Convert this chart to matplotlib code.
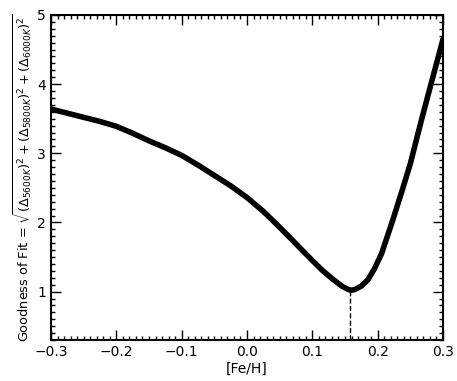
import matplotlib
matplotlib.use('Agg')
import matplotlib.pyplot as plt
from matplotlib.ticker import MultipleLocator

# Valores
feh = [-0.30, -0.275, -0.25, -0.225, -0.20, -0.175, -0.15, -0.125, -0.10, -0.075, -0.05,
       -0.025, 0.00, 0.025, 0.05, 0.075, 0.10, 0.115, 0.13, 0.145, 0.155, 0.16, 0.165,
       0.175, 0.185, 0.195, 0.206, 0.223, 0.239, 0.25, 0.267, 0.283, 0.30]
fit = [3.64, 3.58, 3.52, 3.46, 3.39, 3.29, 3.18, 3.08, 2.97, 2.83, 2.68,
       2.53, 2.36, 2.16, 1.93, 1.69, 1.45, 1.31, 1.19, 1.08, 1.03, 1.02, 1.03,
       1.08, 1.17, 1.33, 1.55, 2.03, 2.51, 2.85, 3.48, 4.05, 4.65]
feh_min = 0.158
fit_min = 1.02

fig = plt.figure(figsize=(4.57, 3.81), dpi=100)
ax = fig.add_axes([51 / 457, 41 / 381, 392 / 457, 325 / 381])

ax.plot(feh, fit, color='black', lw=4, solid_capstyle='round', solid_joinstyle='round')
ax.plot([feh_min, feh_min], [0.3, fit_min], color='black', lw=1, ls='--')

ax.set_xlim(-0.3, 0.3)
ax.set_ylim(0.3, 5)
ax.xaxis.set_major_locator(MultipleLocator(0.1))
ax.xaxis.set_minor_locator(MultipleLocator(0.01))
ax.yaxis.set_major_locator(MultipleLocator(1))
ax.yaxis.set_minor_locator(MultipleLocator(0.1))
ax.tick_params(which='both', direction='in', top=True, right=True, width=1)
ax.tick_params(which='major', length=7, labelsize=10)
ax.tick_params(which='minor', length=3)
for s in ax.spines.values():
    s.set_linewidth(1.5)

ax.set_xlabel('[Fe/H]', fontsize=10, labelpad=2)
ax.set_ylabel(r'Goodness of Fit = $\sqrt{(\Delta_{5600K})^2 + (\Delta_{5800K})^2 + (\Delta_{6000K})^2}$',
              fontsize=9.3, labelpad=2)

plt.savefig('out.png', dpi=100)
plt.close()
